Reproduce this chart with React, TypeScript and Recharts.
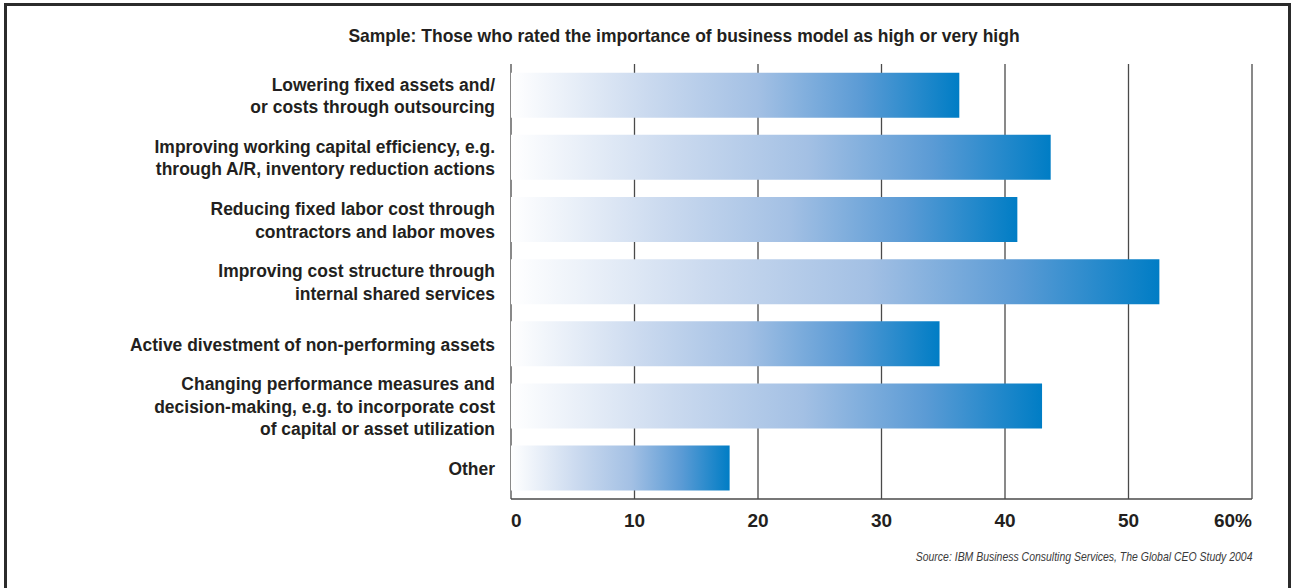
import React from "react";
import { BarChart, Bar, XAxis, YAxis, CartesianGrid } from "recharts";

const TITLE = "Sample: Those who rated the importance of business model as high or very high";
const SOURCE = "Source: IBM Business Consulting Services, The Global CEO Study 2004";

const categories = [
    "Lowering fixed assets and/\nor costs through outsourcing",
    "Improving working capital efficiency, e.g.\nthrough A/R, inventory reduction actions",
    "Reducing fixed labor cost through\ncontractors and labor moves",
    "Improving cost structure through\ninternal shared services",
    "Active divestment of non-performing assets",
    "Changing performance measures and\ndecision-making, e.g. to incorporate cost\nof capital or asset utilization",
    "Other",
];
const shares = [36.3, 43.7, 41.0, 52.5, 34.7, 43.0, 17.7];
const xTicks = [0, 10, 20, 30, 40, 50, 60];

const data = categories.map((c, i) => ({ name: c, value: shares[i] }));

const SANS = "'Liberation Sans', Arial, Helvetica, sans-serif";
const SQUEEZE = 0.92;

const CategoryTick = ({ x, y, payload }: any) => {
    const lines = String(payload.value).split("\n");
    const lh = 22.5;
    const start = -((lines.length - 1) / 2) * lh + 7;
    return (
        <g transform={`translate(${x},${y}) scale(${SQUEEZE},1)`}>
            <text x={0} y={0} textAnchor="end" fill="#231f20"
                style={{ fontFamily: SANS, fontWeight: 700, fontSize: 19 }}>
                {lines.map((l, i) => (
                    <tspan key={i} x={0} dy={i === 0 ? start : lh}>{l}</tspan>
                ))}
            </text>
        </g>
    );
};

const ValueTick = ({ x, y, payload, index }: any) => {
    const last = index === xTicks.length - 1;
    const anchor = index === 0 ? "start" : last ? "end" : "middle";
    return (
        <text x={x} y={y + 28} textAnchor={anchor} fill="#231f20"
            style={{ fontFamily: SANS, fontWeight: 700, fontSize: 19 }}>
            {last ? `${payload.value}%` : payload.value}
        </text>
    );
};

export default function App() {
    return (
        <div style={{ position: "absolute", left: 0, top: 0, width: 1296, height: 588, background: "#fff", overflow: "hidden" }}>
            {/* frame */}
            <div style={{ position: "absolute", left: 4, top: 3, width: 1281, height: 620, border: "3px solid #2b2b2b" }} />
            <div style={{
                position: "absolute", left: 684, top: 25, whiteSpace: "nowrap",
                transform: `translateX(-50%) scaleX(${SQUEEZE})`,
                fontFamily: SANS, fontWeight: 700, fontSize: 19, color: "#231f20"
            }}>
                {TITLE}
            </div>
            <div style={{ position: "absolute", left: 0, top: 0 }}>
                <BarChart width={1296} height={588} data={data} layout="vertical"
                    margin={{ top: 64, right: 44, bottom: 59, left: 0 }} barCategoryGap="14%">
                    <defs>
                        <linearGradient id="barGrad" x1="0" y1="0" x2="1" y2="0">
                            <stop offset="0%" stopColor="#ffffff" />
                            <stop offset="30%" stopColor="#cbdaef" />
                            <stop offset="55%" stopColor="#a3c0e4" />
                            <stop offset="78%" stopColor="#5b9bd5" />
                            <stop offset="100%" stopColor="#007dc5" />
                        </linearGradient>
                    </defs>
                    <CartesianGrid horizontal={false} stroke="#4a4a4a" strokeWidth={1.3} />
                    <XAxis type="number" domain={[0, 60]} ticks={xTicks} interval={0}
                        axisLine={{ stroke: "#4a4a4a", strokeWidth: 1.3 }} tickLine={false}
                        tickSize={0} tickMargin={0} height={30} tick={<ValueTick />} />
                    <XAxis xAxisId="top" orientation="top" type="number" domain={[0, 60]}
                        tick={false} tickLine={false} height={0}
                        axisLine={{ stroke: "#4a4a4a", strokeWidth: 1.3 }} />
                    <YAxis type="category" dataKey="name" width={511} axisLine={false} tickLine={false}
                        tickSize={0} tickMargin={16} interval={0} tick={<CategoryTick />} />
                    <Bar dataKey="value" fill="url(#barGrad)" isAnimationActive={false} />
                </BarChart>
            </div>
            <div style={{
                position: "absolute", right: 44, top: 549, whiteSpace: "nowrap",
                transform: "scaleX(0.775)", transformOrigin: "right center",
                fontFamily: SANS, fontStyle: "italic", fontSize: 13.5, color: "#3a3a3a"
            }}>
                {SOURCE}
            </div>
        </div>
    );
}
